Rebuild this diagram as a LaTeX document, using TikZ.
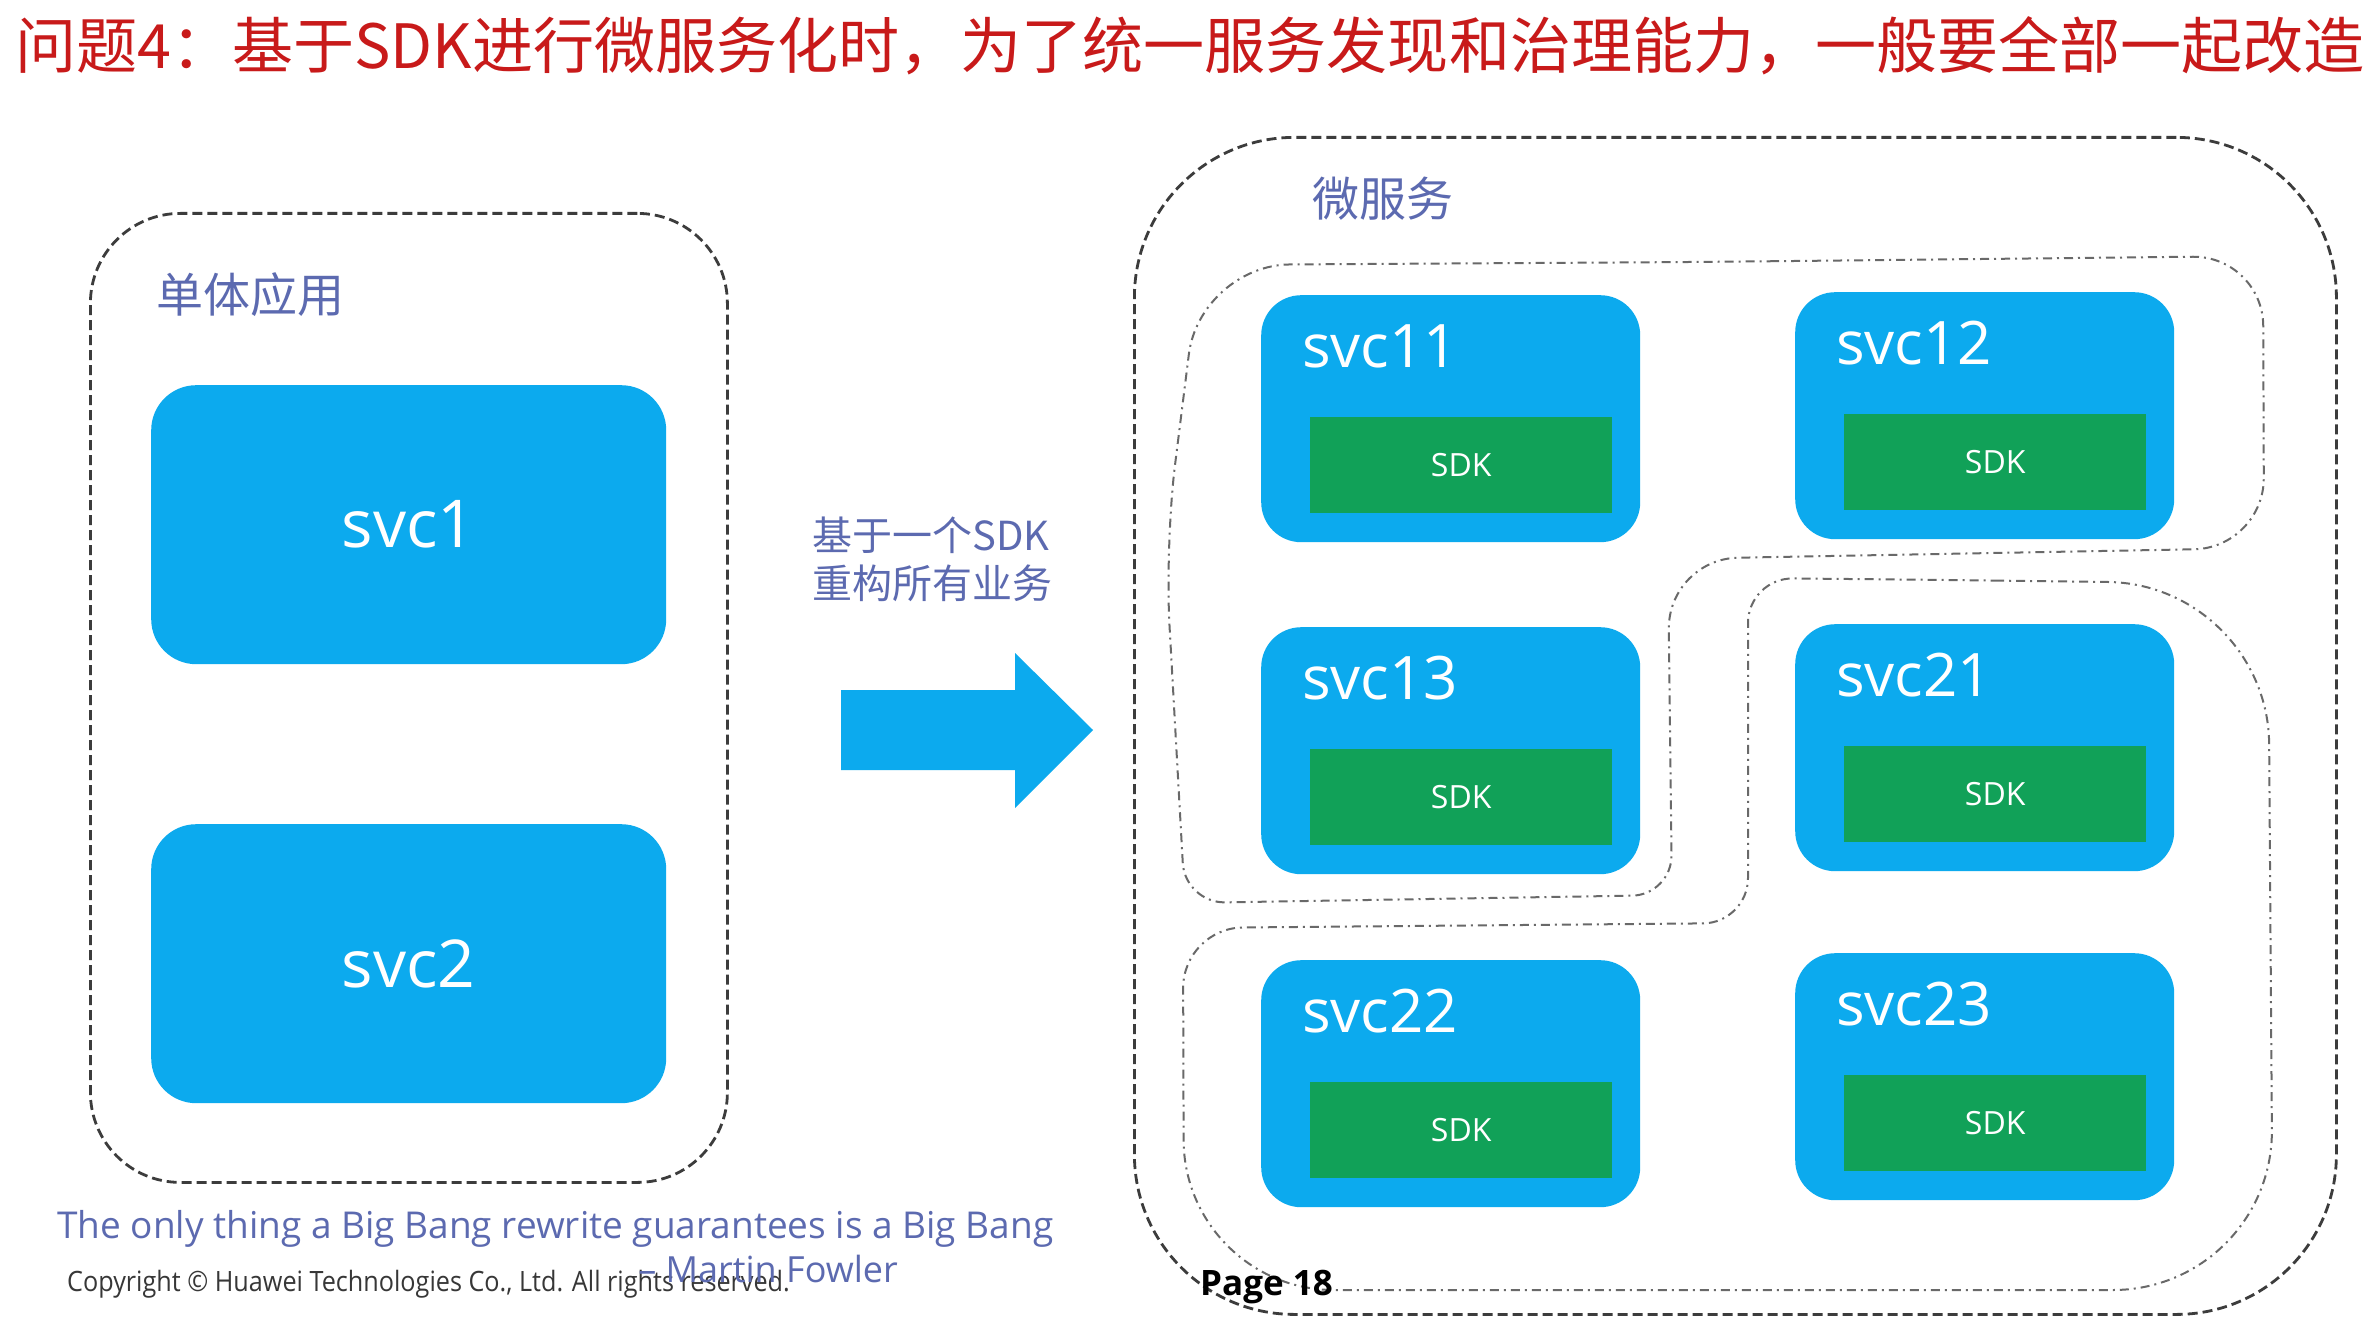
\documentclass[tikz,border=0pt]{standalone}
\usepackage{fontspec}
\setmainfont{Open Sans}
\newfontfamily\cjkfont{Noto Sans CJK SC}

\definecolor{svcblue}{RGB}{12,170,238}
\definecolor{sdkgreen}{RGB}{17,161,88}
\definecolor{labelblue}{RGB}{92,106,176}
\definecolor{titlered}{RGB}{200,26,26}
\definecolor{framegray}{RGB}{60,60,60}
\definecolor{groupgray}{RGB}{105,105,105}
\definecolor{copygray}{RGB}{55,55,55}

\tikzset{
  outerframe/.style={draw=framegray, line width=2.8pt, dash pattern=on 10pt off 5pt,
    rounded corners=#1, inner sep=0pt, anchor=north west},
  groupline/.style={draw=groupgray, line width=2pt, dash pattern=on 9pt off 5pt on 2pt off 5pt},
  bigbox/.style={fill=svcblue, rounded corners=45pt, inner sep=0pt, anchor=north west,
    minimum width=515pt, minimum height=279pt, text=white,
    font=\fontsize{66pt}{70pt}\selectfont},
  svcbox/.style={fill=svcblue, rounded corners=40pt, inner sep=0pt, anchor=north west,
    minimum width=379pt, minimum height=247pt},
  svclabel/.style={text=white, inner sep=0pt, anchor=base west,
    font=\fontsize{60pt}{64pt}\selectfont},
  sdkbox/.style={fill=sdkgreen, inner sep=0pt, anchor=north west,
    minimum width=302pt, minimum height=96pt, text=white,
    font=\fontsize{32pt}{36pt}\selectfont},
  caption/.style={text=labelblue, inner sep=0pt, anchor=west,
    font=\cjkfont\fontsize{47pt}{52pt}\selectfont},
}

% one microservice: blue box, its name and the SDK block inside
\newcommand\svcnode[3]{%
  \node[svcbox] (#1) at (#2,#3) {};
  \node[svclabel] (#1-name) at ({#2+41},{#3+72}) {#1};
  \node[sdkbox] (#1-sdk) at ({#2+49},{#3+122}) {SDK};
}

\begin{document}
\begin{tikzpicture}[x=1pt,y=-1pt]
\fill[white] (0,0) rectangle (2374,1332);
\useasboundingbox (0,0) rectangle (2374,1332);

% heading
\node[inner sep=0pt, text=titlered, font=\cjkfont\fontsize{65pt}{70pt}\selectfont] (title)
  at (1190,46) {\resizebox{2350pt}{!}{问题4：基于SDK进行微服务化时，为了统一服务发现和治理能力，一般要全部一起改造}};

% monolith
\node[outerframe=90pt, minimum width=637pt, minimum height=969pt] (mono) at (89,212) {};
\node[caption] (monolabel) at (156,295) {单体应用};
\node[bigbox] (svc1) at (151,385) {svc1};
\node[bigbox] (svc2) at (151,824) {svc2};

% transition
\node[caption, font=\cjkfont\fontsize{40pt}{48pt}\selectfont, align=left] (refactor)
  at (812,559) {基于一个SDK\\重构所有业务};
\fill[svcblue] (841,690) -- (1015,690) -- (1015,653) -- (1093,730)
  -- (1015,808) -- (1015,770) -- (841,770) -- cycle;

% microservices
\node[outerframe=160pt, minimum width=1202pt, minimum height=1177pt] (micro) at (1133,136) {};
\node[caption] (microlabel) at (1312,199) {微服务};

\svcnode{svc11}{1261}{295}
\svcnode{svc12}{1795}{292}
\svcnode{svc13}{1261}{627}
\svcnode{svc21}{1795}{624}
\svcnode{svc22}{1261}{960}
\svcnode{svc23}{1795}{953}

% service groups
\draw[groupline, rounded corners=70pt]
  (1700,262) -- (2263,256) -- (2264,548) -- (1668,559) [rounded corners=40pt]
  -- (1672,895) -- (1185,903) [rounded corners=80pt] -- (1165,545) [rounded corners=90pt]
  -- (1200,265) [rounded corners=70pt] -- cycle;
\draw[groupline, rounded corners=160pt]
  (1950,580) -- (2268,584) -- (2273,1290) [rounded corners=150pt] -- (1184,1290) [rounded corners=60pt]
  -- (1183,928) [rounded corners=45pt] -- (1748,923) -- (1748,578) -- cycle;

% footer
\node[inner sep=0pt, anchor=base west, text=labelblue, font=\fontsize{37pt}{40pt}\selectfont] (quote)
  at (57,1238) {The only thing a Big Bang rewrite guarantees is a Big Bang};
\node[inner sep=0pt, anchor=base west, text=copygray, font=\fontsize{28pt}{30pt}\selectfont] (copyright)
  at (67,1291) {\scalebox{0.9}[1]{Copyright © Huawei Technologies Co., Ltd. All rights reserved.}};
\node[inner sep=0pt, anchor=base east, text=labelblue, font=\fontsize{36pt}{40pt}\selectfont] (author)
  at (898,1282) {– Martin Fowler};
\node[inner sep=0pt, anchor=base west, text=black, font=\bfseries\fontsize{35pt}{38pt}\selectfont] (page)
  at (1200,1295) {Page 18};
\end{tikzpicture}
\end{document}
